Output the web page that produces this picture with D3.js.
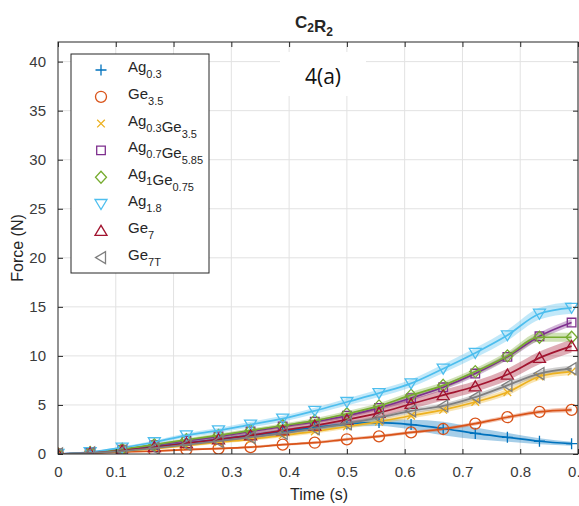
<!DOCTYPE html>
<html>
<head>
<meta charset="utf-8">
<script src="https://cdn.jsdelivr.net/npm/d3@7"></script>
<style>
  body { margin: 0; background: #fff; }
  svg { font-family: "Liberation Sans", Arial, sans-serif; }
</style>
</head>
<body>
<div id="vis"></div>
<script>
// declare constants
const FRAME_WIDTH = 579;
const FRAME_HEIGHT = 506;
const MARGINS = {left: 58, right: 1, top: 42, bottom: 52};
const VIS_WIDTH = FRAME_WIDTH - MARGINS.left - MARGINS.right;
const VIS_HEIGHT = FRAME_HEIGHT - MARGINS.top - MARGINS.bottom;

// data (time in s, force in N)
const TIME = [0, 0.0556, 0.1111, 0.1667, 0.2222, 0.2778, 0.3333, 0.3889, 0.4444,
              0.5, 0.5556, 0.6111, 0.6667, 0.7222, 0.7778, 0.8333, 0.8889];

const AG03      = [0, 0.15, 0.4, 0.75, 1.1, 1.5, 1.9, 2.3, 2.7, 3.05, 3.2, 3.0, 2.6, 2.1, 1.7, 1.3, 1.05];
const GE35      = [0, 0.1, 0.2, 0.3, 0.45, 0.55, 0.7, 0.95, 1.15, 1.5, 1.8, 2.2, 2.55, 3.1, 3.75, 4.3, 4.5];
const AG03GE35  = [0, 0.1, 0.3, 0.55, 0.85, 1.2, 1.5, 1.9, 2.3, 2.8, 3.3, 3.9, 4.5, 5.3, 6.3, 7.9, 8.4];
const AG07GE585 = [0, 0.15, 0.45, 0.9, 1.35, 1.8, 2.3, 2.8, 3.3, 3.9, 4.7, 5.7, 6.8, 8.2, 9.9, 12.0, 13.4];
const AG1GE075  = [0, 0.15, 0.5, 0.95, 1.45, 1.9, 2.4, 2.9, 3.4, 4.1, 4.9, 6.0, 7.0, 8.4, 10.0, 11.9, 11.9];
const AG18      = [0, 0.2, 0.65, 1.2, 1.9, 2.4, 3.0, 3.6, 4.4, 5.3, 6.2, 7.2, 8.7, 10.3, 12.1, 14.3, 14.9];
const GE7       = [0, 0.1, 0.35, 0.7, 1.1, 1.5, 1.9, 2.4, 2.9, 3.5, 4.2, 5.1, 6.0, 6.9, 8.1, 9.8, 11.0];
const GE7T      = [0, 0.1, 0.3, 0.6, 0.95, 1.3, 1.7, 2.1, 2.6, 3.1, 3.7, 4.4, 4.9, 5.8, 7.0, 8.2, 8.7];

// spread (half width of shaded band)
const SD_AG03      = [0, 0.05, 0.1, 0.15, 0.2, 0.2, 0.25, 0.25, 0.3, 0.3, 0.35, 0.5, 0.7, 0.6, 0.45, 0.3, 0.2];
const SD_GE35      = [0, 0.05, 0.06, 0.08, 0.1, 0.1, 0.12, 0.12, 0.14, 0.15, 0.15, 0.16, 0.18, 0.2, 0.2, 0.22, 0.25];
const SD_AG03GE35  = [0, 0.05, 0.08, 0.1, 0.12, 0.15, 0.15, 0.18, 0.2, 0.22, 0.25, 0.28, 0.3, 0.3, 0.32, 0.35, 0.35];
const SD_AG07GE585 = [0, 0.05, 0.08, 0.1, 0.12, 0.15, 0.15, 0.18, 0.2, 0.22, 0.24, 0.26, 0.28, 0.3, 0.32, 0.35, 0.35];
const SD_AG1GE075  = [0, 0.05, 0.1, 0.12, 0.15, 0.18, 0.2, 0.22, 0.25, 0.28, 0.3, 0.32, 0.35, 0.35, 0.4, 0.45, 0.45];
const SD_AG18      = [0, 0.06, 0.12, 0.18, 0.22, 0.25, 0.28, 0.3, 0.32, 0.35, 0.38, 0.4, 0.45, 0.5, 0.55, 0.6, 0.6];
const SD_GE7       = [0, 0.05, 0.1, 0.15, 0.2, 0.25, 0.3, 0.32, 0.35, 0.4, 0.45, 0.5, 0.55, 0.55, 0.6, 0.65, 0.65];
const SD_GE7T      = [0, 0.05, 0.08, 0.1, 0.12, 0.15, 0.15, 0.18, 0.2, 0.2, 0.22, 0.25, 0.25, 0.3, 0.3, 0.3, 0.3];

// legend labels as [base, subscript] pairs
const LABELS = [
  [["Ag", "0.3"]],
  [["Ge", "3.5"]],
  [["Ag", "0.3"], ["Ge", "3.5"]],
  [["Ag", "0.7"], ["Ge", "5.85"]],
  [["Ag", "1"], ["Ge", "0.75"]],
  [["Ag", "1.8"]],
  [["Ge", "7"]],
  [["Ge", "7T"]]
];
const VALUES = [AG03, GE35, AG03GE35, AG07GE585, AG1GE075, AG18, GE7, GE7T];
const SPREADS = [SD_AG03, SD_GE35, SD_AG03GE35, SD_AG07GE585, SD_AG1GE075, SD_AG18, SD_GE7, SD_GE7T];
const COLORS = ["#0072BD", "#D95319", "#EDB120", "#7E2F8E", "#77AC30", "#4DBEEE", "#A2142F", "#7f7f7f"];
const MARKERS = ["plus", "circle", "x", "square", "diamond", "down", "up", "left"];

const X_TICKS = [0, 0.1, 0.2, 0.3, 0.4, 0.5, 0.6, 0.7, 0.8, 0.9];
const Y_TICKS = [0, 5, 10, 15, 20, 25, 30, 35, 40];

// marker path shapes
function markerPath(type) {
  const s = 5.5;
  switch (type) {
    case "plus": return `M${-s},0H${s}M0,${-s}V${s}`;
    case "circle": return `M${s},0A${s},${s} 0 1,1 ${-s},0A${s},${s} 0 1,1 ${s},0Z`;
    case "x": return `M-3.8,-3.8L3.8,3.8M-3.8,3.8L3.8,-3.8`;
    case "square": return `M-4.3,-4.3H4.3V4.3H-4.3Z`;
    case "diamond": return `M0,${-s - 0.5}L${s},0L0,${s + 0.5}L${-s},0Z`;
    case "down": return `M${-s - 0.5},${-s + 1}L${s + 0.5},${-s + 1}L0,${s}Z`;
    case "up": return `M${-s - 0.5},${s - 1}L${s + 0.5},${s - 1}L0,${-s}Z`;
    case "left": return `M${s - 1},${-s - 0.5}L${s - 1},${s + 0.5}L${-s},0Z`;
  }
}

const SVG = d3.select("#vis")
  .append("svg")
    .attr("width", FRAME_WIDTH)
    .attr("height", FRAME_HEIGHT);

const X_SCALE = d3.scaleLinear().domain([0, 0.9]).range([0, VIS_WIDTH]);
const Y_SCALE = d3.scaleLinear().domain([0, 42]).range([VIS_HEIGHT, 0]);

const PLOT = SVG.append("g")
  .attr("transform", "translate(" + MARGINS.left + "," + MARGINS.top + ")");

// grid
PLOT.append("g")
  .selectAll("line")
  .data(X_TICKS.slice(1))
  .enter().append("line")
    .attr("x1", d => X_SCALE(d)).attr("x2", d => X_SCALE(d))
    .attr("y1", 0).attr("y2", VIS_HEIGHT)
    .attr("stroke", "#e2e2e2");
PLOT.append("g")
  .selectAll("line")
  .data(Y_TICKS.slice(1))
  .enter().append("line")
    .attr("x1", 0).attr("x2", VIS_WIDTH)
    .attr("y1", d => Y_SCALE(d)).attr("y2", d => Y_SCALE(d))
    .attr("stroke", "#e2e2e2");

// clip for the data
SVG.append("defs").append("clipPath").attr("id", "clip")
  .append("rect").attr("width", VIS_WIDTH).attr("height", VIS_HEIGHT);

const DATA_G = PLOT.append("g").attr("clip-path", "url(#clip)");

const area = d3.area()
  .x((d, i) => X_SCALE(TIME[i]))
  .y0(d => Y_SCALE(d[0] - d[1]))
  .y1(d => Y_SCALE(d[0] + d[1]))
  .curve(d3.curveMonotoneX);

const line = d3.line()
  .x((d, i) => X_SCALE(TIME[i]))
  .y(d => Y_SCALE(d))
  .curve(d3.curveMonotoneX);

// bands first
VALUES.forEach((vals, k) => {
  DATA_G.append("path")
    .datum(vals.map((v, i) => [v, SPREADS[k][i]]))
    .attr("d", area)
    .attr("fill", COLORS[k])
    .attr("fill-opacity", 0.35);
});

// lines and markers
VALUES.forEach((vals, k) => {
  DATA_G.append("path")
    .datum(vals)
    .attr("d", line)
    .attr("fill", "none")
    .attr("stroke", COLORS[k])
    .attr("stroke-width", 1.7);

  DATA_G.selectAll(".m" + k)
    .data(vals)
    .enter().append("path")
      .attr("class", "m" + k)
      .attr("transform", (d, i) => "translate(" + X_SCALE(TIME[i]) + "," + Y_SCALE(d) + ")")
      .attr("d", markerPath(MARKERS[k]))
      .attr("fill", "none")
      .attr("stroke", COLORS[k])
      .attr("stroke-width", 1.3);
});

// axes (box with inward ticks on all sides)
const AX_COLOR = "#262626";
PLOT.append("rect")
  .attr("width", VIS_WIDTH).attr("height", VIS_HEIGHT)
  .attr("fill", "none").attr("stroke", AX_COLOR).attr("stroke-width", 1);

const xB = PLOT.append("g")
  .attr("transform", "translate(0," + VIS_HEIGHT + ")")
  .call(d3.axisBottom(X_SCALE).tickValues(X_TICKS).tickSizeInner(-5).tickSizeOuter(0).tickPadding(12)
    .tickFormat(d3.format("")));
const xT = PLOT.append("g")
  .call(d3.axisTop(X_SCALE).tickValues(X_TICKS).tickSizeInner(-5).tickSizeOuter(0).tickFormat(""));
const yL = PLOT.append("g")
  .call(d3.axisLeft(Y_SCALE).tickValues(Y_TICKS).tickSizeInner(-5).tickSizeOuter(0).tickPadding(12));
const yR = PLOT.append("g")
  .attr("transform", "translate(" + VIS_WIDTH + ",0)")
  .call(d3.axisRight(Y_SCALE).tickValues(Y_TICKS).tickSizeInner(-5).tickSizeOuter(0).tickFormat(""));

[xB, xT, yL, yR].forEach(g => {
  g.select(".domain").remove();
  g.selectAll("line").attr("stroke", AX_COLOR);
  g.selectAll("text")
    .attr("fill", "#3a3a3a")
    .attr("font-size", "15px")
    .attr("font-family", "'Liberation Sans', Arial, sans-serif");
});

// axis labels
SVG.append("text")
  .attr("x", MARGINS.left + VIS_WIDTH / 2 + 1)
  .attr("y", 500)
  .attr("text-anchor", "middle")
  .attr("font-size", "16px")
  .attr("fill", "#262626")
  .text("Time (s)");

SVG.append("text")
  .attr("transform", "translate(23," + (MARGINS.top + VIS_HEIGHT / 2) + ") rotate(-90)")
  .attr("text-anchor", "middle")
  .attr("font-size", "16px")
  .attr("fill", "#262626")
  .text("Force (N)");

// title with subscripts
const TITLE = SVG.append("text")
  .attr("x", MARGINS.left + VIS_WIDTH / 2 - 4)
  .attr("y", 28)
  .attr("text-anchor", "middle")
  .attr("font-size", "17px")
  .attr("font-weight", "bold")
  .attr("fill", "#262626");
[["C", "2"], ["R", "2"]].forEach(p => {
  TITLE.append("tspan").attr("dy", 0).text(p[0]);
  TITLE.append("tspan").attr("font-size", "12px").attr("dy", 4).text(p[1]);
  TITLE.append("tspan").attr("dy", -4).text("");
});

// legend
const LEG = SVG.append("g").attr("transform", "translate(71,54)");
LEG.append("rect")
  .attr("width", 138).attr("height", 219)
  .attr("fill", "#fff").attr("stroke", AX_COLOR).attr("stroke-width", 1);

LABELS.forEach((parts, k) => {
  const yy = 16 + k * 26.8;
  LEG.append("path")
    .attr("transform", "translate(30," + yy + ")")
    .attr("d", markerPath(MARKERS[k]))
    .attr("fill", "none")
    .attr("stroke", COLORS[k])
    .attr("stroke-width", 1.3);
  const t = LEG.append("text")
    .attr("x", 57).attr("y", yy + 2)
    .attr("font-size", "15px")
    .attr("fill", "#262626");
  parts.forEach(p => {
    t.append("tspan").attr("dy", 0).text(p[0]);
    t.append("tspan").attr("font-size", "11px").attr("dy", 6).text(p[1]);
    t.append("tspan").attr("dy", -6).text("");
  });
});

// panel label
SVG.append("rect")
  .attr("x", 280).attr("y", 52).attr("width", 86).attr("height", 44)
  .attr("fill", "#fff");
SVG.append("text")
  .attr("x", 323).attr("y", 84)
  .attr("text-anchor", "middle")
  .attr("font-size", "21px")
  .attr("font-family", "'Open Sans', 'Liberation Sans', sans-serif")
  .attr("fill", "#111")
  .text("4(a)");
</script>
</body>
</html>
